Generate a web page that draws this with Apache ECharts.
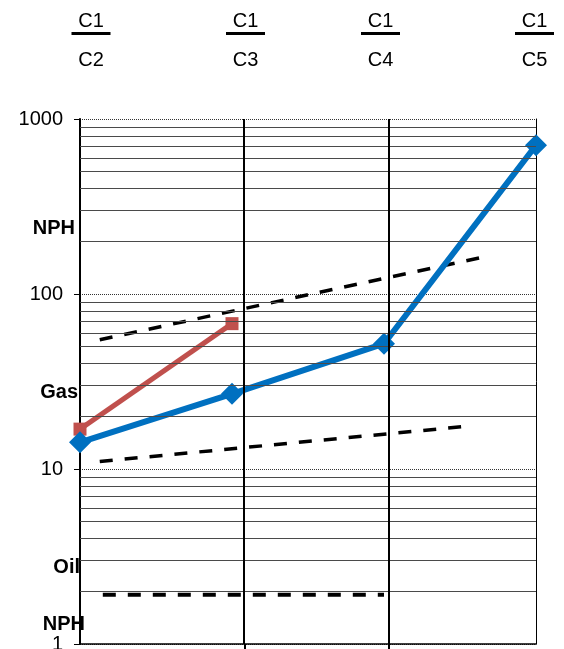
<!DOCTYPE html>
<html><head><meta charset="utf-8">
<script src="https://cdn.jsdelivr.net/npm/echarts@6/dist/echarts.min.js"></script>
<style>html,body{margin:0;padding:0;background:#fff}#c{width:564px;height:649px}</style>
</head><body><div id="c"></div><script>
// ---- data ----
const xPositions = [0, 1, 2, 3];
const blueValues = [14.2, 26.9, 52.0, 708];
const redValues = [16.9, 67.7];
const upperDashX = [0.13, 2.63];
const upperDashY = [54.8, 161];
const lowerDashX = [0.13, 2.53];
const lowerDashY = [11.05, 17.5];
const oilDashX = [0.15, 2.0];
const oilDashY = [1.91, 1.91];
const dividerX = [1.085, 2.033];
const minorGridValues = [2,3,4,5,6,7,8,9,20,30,40,50,60,70,80,90,200,300,400,500,600,700,800,900];
const numerators = ['C1', 'C1', 'C1', 'C1'];
const denominators = ['C2', 'C3', 'C4', 'C5'];
const sideLabels = ['NPH', 'Gas', 'Oil', 'NPH'];

const FONT = 'Liberation Sans, Arial, sans-serif';
const chart = echarts.init(document.getElementById('c'), null, {renderer: 'canvas'});

function pairs(xs, ys) { return xs.map((x, i) => [x, ys[i]]); }

// fraction labels and side labels (annotation text)
const fracCenters = [91, 245.5, 380.5, 534.5];
const graphic = [];
numerators.forEach((n, i) => {
  const cx = fracCenters[i];
  graphic.push({type: 'text', x: cx, y: 21, style: {text: n, font: '20px ' + FONT, fill: '#000', align: 'center', verticalAlign: 'middle'}});
  graphic.push({type: 'line', shape: {x1: cx - 19.5, y1: 33.5, x2: cx + 19.5, y2: 33.5}, style: {stroke: '#000', lineWidth: 3}});
  graphic.push({type: 'text', x: cx, y: 60, style: {text: denominators[i], font: '20px ' + FONT, fill: '#000', align: 'center', verticalAlign: 'middle'}});
});
const sidePos = [[75, 228], [78, 392.5], [80, 567.5], [85, 624.5]];
sideLabels.forEach((t, i) => {
  graphic.push({type: 'text', z: 0, x: sidePos[i][0], y: sidePos[i][1], style: {text: t, font: 'bold 20px ' + FONT, fill: '#000', align: 'right', verticalAlign: 'middle'}});
});

const option = {
  animation: false,
  textStyle: {fontFamily: FONT},
  grid: {left: 80, right: 28, top: 119, bottom: 5, containLabel: false, outerBoundsMode: 'none'},
  graphic: graphic,
  xAxis: {
    type: 'value', min: 0, max: 3, interval: 3,
    axisLine: {show: true, lineStyle: {color: '#000', width: 1.5}},
    axisTick: {show: true, customValues: dividerX, length: 6, lineStyle: {color: '#000', width: 2}},
    axisLabel: {show: false},
    splitLine: {show: false}
  },
  yAxis: [{
    type: 'log', logBase: 10, min: 1, max: 1000,
    axisLine: {show: true, lineStyle: {color: '#000', width: 2}},
    axisTick: {show: true, length: 6, lineStyle: {color: '#000', width: 1}},
    axisLabel: {fontSize: 20, color: '#000', fontFamily: FONT, margin: 17, formatter: v => String(Math.round(v))},
    splitLine: {show: true, lineStyle: {color: '#333', type: 'dotted', width: 1}}
  }, {
    type: 'log', logBase: 10, min: 1, max: 1000, position: 'right',
    axisLine: {show: true, lineStyle: {color: '#000', width: 1}},
    axisTick: {show: false}, axisLabel: {show: false}, splitLine: {show: false}
  }],
  series: [
    {
      type: 'line', name: 'grid', data: [], silent: true, z: 1,
      markLine: {
        silent: true, symbol: 'none', animation: false, label: {show: false},
        data: minorGridValues.map(v => ({yAxis: v, lineStyle: {color: '#4a4a4a', width: 1, type: 'solid'}}))
          .concat(dividerX.map(v => ({xAxis: v, lineStyle: {color: '#000', width: 2, type: 'solid'}})))
      }
    },
    {type: 'line', data: pairs(upperDashX, upperDashY), symbol: 'none', silent: true, z: 2,
     lineStyle: {color: '#000', width: 3.5, type: [13, 12]}},
    {type: 'line', data: pairs(lowerDashX, lowerDashY), symbol: 'none', silent: true, z: 2,
     lineStyle: {color: '#000', width: 3.5, type: [13, 12]}},
    {type: 'line', data: pairs(oilDashX, oilDashY), symbol: 'none', silent: true, z: 2,
     lineStyle: {color: '#000', width: 4, type: [13, 12]}},
    {type: 'line', name: 'red', data: pairs(xPositions.slice(0, redValues.length), redValues), clip: false, z: 3,
     symbol: 'rect', symbolSize: 13, color: '#C0504D',
     lineStyle: {color: '#C0504D', width: 5}, itemStyle: {color: '#C0504D'}},
    {type: 'line', name: 'blue', data: pairs(xPositions, blueValues), clip: false, z: 4,
     symbol: 'diamond', symbolSize: 22, color: '#0070C0',
     lineStyle: {color: '#0070C0', width: 6}, itemStyle: {color: '#0070C0'}}
  ]
};
chart.setOption(option);
</script></body></html>
